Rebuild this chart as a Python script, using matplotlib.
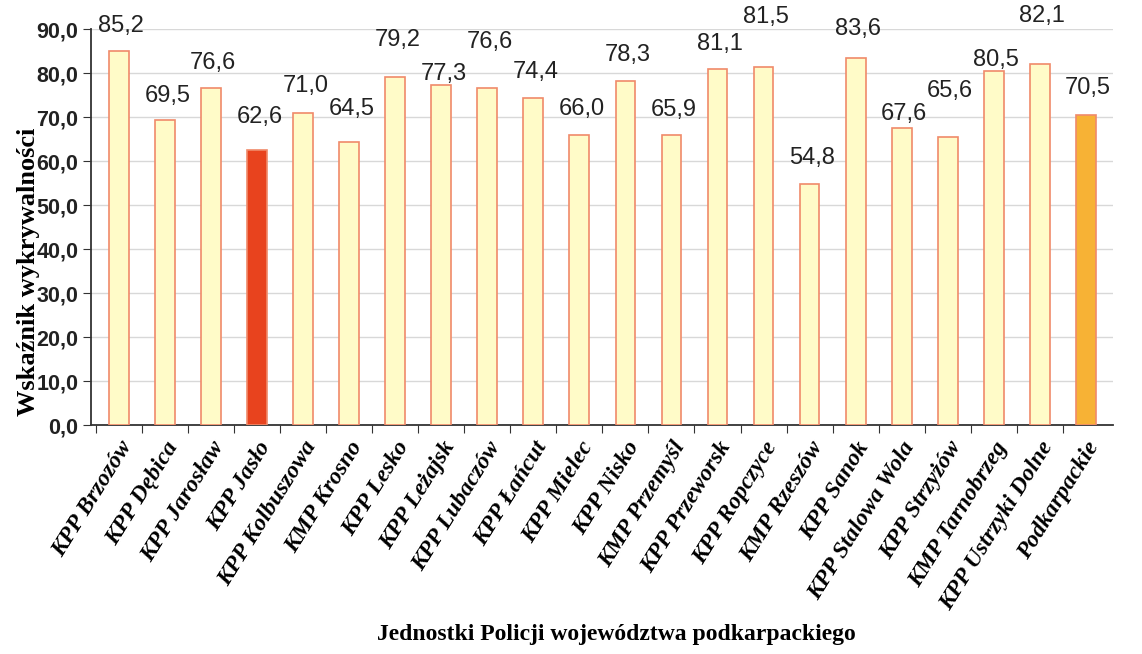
import numpy as np
import matplotlib
matplotlib.use("Agg")
import matplotlib.pyplot as plt

# police units and detection rate (%)
units = ["KPP Brzozów", "KPP Dębica", "KPP Jarosław", "KPP Jasło", "KPP Kolbuszowa",
         "KMP Krosno", "KPP Lesko", "KPP Leżajsk", "KPP Lubaczów", "KPP Łańcut",
         "KPP Mielec", "KPP Nisko", "KMP Przemyśl", "KPP Przeworsk", "KPP Ropczyce",
         "KMP Rzeszów", "KPP Sanok", "KPP Stalowa Wola", "KPP Strzyżów", "KMP Tarnobrzeg",
         "KPP Ustrzyki Dolne", "Podkarpackie"]
values = [85.2, 69.5, 76.6, 62.6, 71.0, 64.5, 79.2, 77.3, 76.6, 74.4, 66.0,
          78.3, 65.9, 81.1, 81.5, 54.8, 83.6, 67.6, 65.6, 80.5, 82.1, 70.5]
yticks = [0, 10, 20, 30, 40, 50, 60, 70, 80, 90]

# data labels were placed by hand in the original, staggered so they don't collide
label_lift = [5.5, 5.3, 5.8, 7.4, 6.2, 7.4, 8.3, 2.5, 10.6, 6.0, 5.8,
              5.8, 5.8, 5.5, 11.3, 6.0, 6.5, 3.2, 10.4, 2.6, 11.0, 6.2]

# colours: default bars light yellow, Jasło highlighted red, region total orange
colors = ["#FFFBC8"] * len(units)
colors[units.index("KPP Jasło")] = "#E8431E"
colors[units.index("Podkarpackie")] = "#F7B235"

fig = plt.figure(figsize=(11.42, 6.54), dpi=100)
ax = fig.add_axes([0.080, 0.350, 0.895, 0.605])

x = np.arange(len(units))
ax.bar(x, values, width=0.43, color=colors, edgecolor="#F08A6A", linewidth=1.2, zorder=3)

for xi, v, lift in zip(x, values, label_lift):
    ax.text(xi + 0.05, v + lift, f"{v:.1f}".replace(".", ","), ha="center", va="center",
            fontsize=17, family="Liberation Sans", color="#222222", zorder=4, clip_on=False)

ax.set_xlim(-0.6, len(units) - 0.4)
ax.set_ylim(0, 90)
ax.set_yticks(yticks)
ax.set_yticklabels([f"{t:.1f}".replace(".", ",") for t in yticks],
                   fontsize=15.5, family="Liberation Sans", fontweight="bold", color="#222222")
ax.yaxis.grid(True, color="#d8d8d8", linewidth=1, zorder=0)

# ticks between categories, labels at category centres
ax.set_xticks(x - 0.5, minor=False)
ax.set_xticklabels([])
ax.set_xticks(x, minor=True)
ax.set_xticklabels(units, minor=True, rotation=58, ha="right", rotation_mode="anchor",
                   fontsize=17, family="Liberation Serif", fontweight="bold", style="italic")
ax.tick_params(axis="x", which="minor", length=0, pad=9)
ax.tick_params(axis="x", which="major", length=6, direction="out", color="#333333")
ax.tick_params(axis="y", length=6, direction="out", color="#333333")

for side in ["top", "right"]:
    ax.spines[side].set_visible(False)
ax.spines["left"].set_color("#333333")
ax.spines["bottom"].set_color("#333333")
ax.spines["left"].set_linewidth(1.3)
ax.spines["bottom"].set_linewidth(1.3)

fig.text(0.025, 0.585, "Wskaźnik wykrywalności", rotation=90, ha="center", va="center",
         fontsize=19, family="Liberation Serif", fontweight="bold")
fig.text(0.54, 0.022, "Jednostki Policji województwa podkarpackiego", ha="center",
         fontsize=17, family="Liberation Serif", fontweight="bold")

fig.savefig("out.png", dpi=100)
